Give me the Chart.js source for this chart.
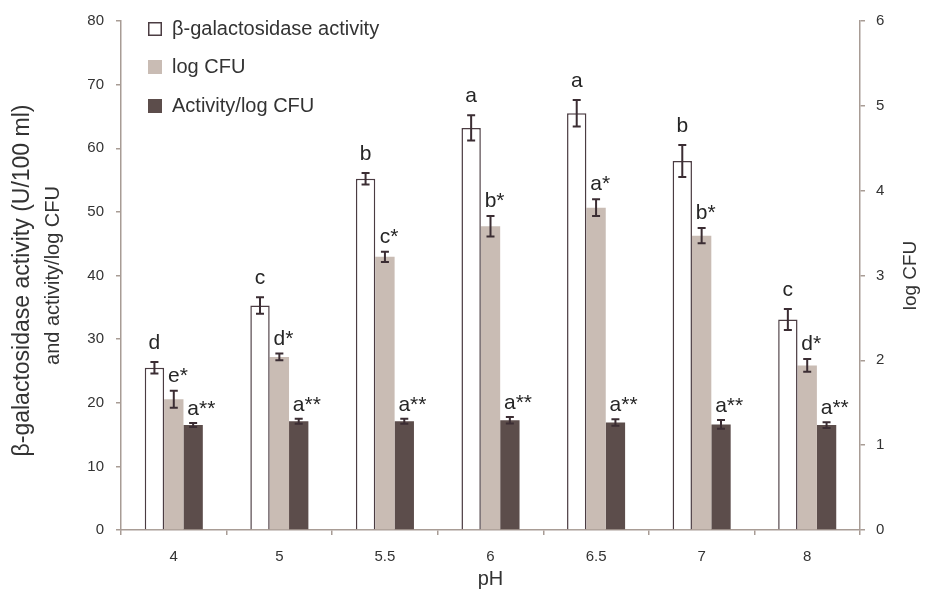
<!DOCTYPE html>
<html>
<head>
<meta charset="utf-8">
<script src="https://cdn.jsdelivr.net/npm/chart.js@4/dist/chart.umd.min.js"></script>
<style>
  html, body { margin: 0; padding: 0; background: #ffffff; }
  #wrap { width: 925px; height: 592px; position: relative; }
</style>
</head>
<body>
<div id="wrap"><canvas id="chart"></canvas></div>
<script>
// pH levels tested
const phLevels = ['4', '5', '5.5', '6', '6.5', '7', '8'];

// β-galactosidase activity (U/100 ml), mean and error
const activity    = [25.5, 35.3, 55.2, 63.2, 65.5, 58.0, 33.1];
const activityErr = [0.9, 1.3, 0.9, 2.0, 2.1, 2.5, 1.65];
const activityGroups = ['d', 'c', 'b', 'a', 'a', 'b', 'c'];

// log CFU (right axis), mean and error
const logCfu    = [1.54, 2.04, 3.22, 3.58, 3.80, 3.47, 1.94];
const logCfuErr = [0.10, 0.04, 0.06, 0.12, 0.10, 0.09, 0.075];
const logCfuGroups = ['e*', 'd*', 'c*', 'b*', 'a*', 'b*', 'd*'];

// Activity per log CFU, mean and error
const ratio    = [16.5, 17.1, 17.1, 17.25, 16.9, 16.6, 16.5];
const ratioErr = [0.3, 0.4, 0.4, 0.5, 0.5, 0.7, 0.45];
const ratioGroups = ['a**', 'a**', 'a**', 'a**', 'a**', 'a**', 'a**'];

// Axis ranges
const leftAxisMax = 80, leftAxisStep = 10;
const rightAxisMax = 6, rightAxisStep = 1;

const FONT = "'Liberation Sans', Arial, Helvetica, sans-serif";
const AXIS_COLOR = '#a89c95';
const TEXT_COLOR = '#333333';
const ERR_COLOR = '#3b2d33';

const errors = [activityErr, logCfuErr, ratioErr];
const groups = [activityGroups, logCfuGroups, ratioGroups];
const labelGap = [13, 9, 8];

// Error bars with caps, drawn through each dataset's own y scale
const errorBarPlugin = {
  id: 'errorBars',
  afterDatasetsDraw(chart) {
    const ctx = chart.ctx;
    ctx.save();
    ctx.strokeStyle = ERR_COLOR;
    ctx.lineWidth = 2;
    chart.data.datasets.forEach((ds, i) => {
      const meta = chart.getDatasetMeta(i);
      const scale = chart.scales[ds.yAxisID];
      meta.data.forEach((bar, j) => {
        const v = ds.data[j], e = errors[i][j];
        const yHi = scale.getPixelForValue(v + e);
        const yLo = scale.getPixelForValue(v - e);
        const x = bar.x, cap = 4;
        ctx.beginPath();
        ctx.moveTo(x, yHi); ctx.lineTo(x, yLo);
        ctx.moveTo(x - cap, yHi); ctx.lineTo(x + cap, yHi);
        ctx.moveTo(x - cap, yLo); ctx.lineTo(x + cap, yLo);
        ctx.stroke();
      });
    });
    ctx.restore();
  }
};

// Significance letters above each error bar; the letter is centred on the bar
const groupLabelPlugin = {
  id: 'groupLabels',
  afterDatasetsDraw(chart) {
    const ctx = chart.ctx;
    ctx.save();
    ctx.fillStyle = '#262626';
    ctx.font = '21px ' + FONT;
    ctx.textAlign = 'left';
    ctx.textBaseline = 'alphabetic';
    chart.data.datasets.forEach((ds, i) => {
      const meta = chart.getDatasetMeta(i);
      const scale = chart.scales[ds.yAxisID];
      meta.data.forEach((bar, j) => {
        const txt = groups[i][j];
        const letter = txt.charAt(0);
        const yTop = scale.getPixelForValue(ds.data[j] + errors[i][j]);
        const w = ctx.measureText(letter).width;
        ctx.fillText(txt, bar.x - w / 2, yTop - labelGap[i]);
      });
    });
    ctx.restore();
  }
};

// Legend in the upper-left corner of the plot
const legendPlugin = {
  id: 'cornerLegend',
  afterDraw(chart) {
    const ctx = chart.ctx;
    const x0 = 148, rows = [29, 67, 106], box = 14;
    ctx.save();
    ctx.font = '20px ' + FONT;
    ctx.textBaseline = 'middle';
    ctx.textAlign = 'left';
    chart.data.datasets.forEach((ds, i) => {
      const y = rows[i];
      ctx.fillStyle = ds.backgroundColor;
      ctx.fillRect(x0, y - box / 2, box, box);
      if (ds.borderWidth) {
        ctx.strokeStyle = ds.borderColor;
        ctx.lineWidth = 1.5;
        ctx.strokeRect(x0 + 0.75, y - box / 2 + 0.75, box - 1.5, box - 1.5);
      }
      ctx.fillStyle = TEXT_COLOR;
      ctx.fillText(ds.label, 172, y);
    });
    ctx.restore();
  }
};

// Vertical axis titles, both reading bottom-to-top
const axisTitlePlugin = {
  id: 'axisTitles',
  afterDraw(chart) {
    const ctx = chart.ctx;
    const area = chart.chartArea;
    const midY = (area.top + area.bottom) / 2;
    const titles = [
      { text: 'β-galactosidase activity (U/100 ml)', x: 29, y: midY + 5, size: 23 },
      { text: 'and activity/log CFU', x: 59, y: midY, size: 20 },
      { text: 'log CFU', x: 916, y: midY, size: 19 }
    ];
    ctx.save();
    ctx.fillStyle = TEXT_COLOR;
    ctx.textAlign = 'center';
    ctx.textBaseline = 'alphabetic';
    titles.forEach(t => {
      ctx.save();
      ctx.translate(t.x, t.y);
      ctx.rotate(-Math.PI / 2);
      ctx.font = t.size + 'px ' + FONT;
      ctx.fillText(t.text, 0, 0);
      ctx.restore();
    });
    ctx.restore();
  }
};

new Chart(document.getElementById('chart'), {
  type: 'bar',
  data: {
    labels: phLevels,
    datasets: [
      {
        label: 'β-galactosidase activity',
        data: activity,
        yAxisID: 'y',
        backgroundColor: '#ffffff',
        borderColor: '#4b3c42',
        borderWidth: 1.5
      },
      {
        label: 'log CFU',
        data: logCfu,
        yAxisID: 'y1',
        backgroundColor: '#c9bcb4',
        borderWidth: 0
      },
      {
        label: 'Activity/log CFU',
        data: ratio,
        yAxisID: 'y',
        backgroundColor: '#5c4d4b',
        borderWidth: 0
      }
    ]
  },
  options: {
    responsive: true,
    maintainAspectRatio: false,
    animation: false,
    devicePixelRatio: 1,
    categoryPercentage: 0.55,
    barPercentage: 1.0,
    layout: { padding: { top: 20, left: 0, right: 0, bottom: 0 } },
    plugins: {
      legend: { display: false },
      tooltip: { enabled: false }
    },
    scales: {
      x: {
        grid: { display: true, drawOnChartArea: false, drawTicks: true, tickLength: 5, color: AXIS_COLOR, lineWidth: 1.5, offset: true },
        border: { display: true, color: AXIS_COLOR, width: 1.5 },
        ticks: { color: TEXT_COLOR, font: { family: FONT, size: 15 }, padding: 13 },
        title: { display: true, text: 'pH', color: TEXT_COLOR, font: { family: FONT, size: 20 }, padding: { top: 0, bottom: 1 } },
        afterFit(scale) { scale.height = 62; }
      },
      y: {
        position: 'left',
        min: 0,
        max: leftAxisMax,
        grid: { display: true, drawOnChartArea: false, drawTicks: true, tickLength: 5, color: AXIS_COLOR, lineWidth: 1.5 },
        border: { display: true, color: AXIS_COLOR, width: 1.5 },
        ticks: { stepSize: leftAxisStep, color: TEXT_COLOR, font: { family: FONT, size: 15 }, padding: 12 },
        afterFit(scale) { scale.width = 121; }
      },
      y1: {
        position: 'right',
        min: 0,
        max: rightAxisMax,
        grid: { display: true, drawOnChartArea: false, drawTicks: true, tickLength: 5, color: AXIS_COLOR, lineWidth: 1.5 },
        border: { display: true, color: AXIS_COLOR, width: 1.5 },
        ticks: { stepSize: rightAxisStep, color: TEXT_COLOR, font: { family: FONT, size: 15 }, padding: 11 },
        afterFit(scale) { scale.width = 65; }
      }
    }
  },
  plugins: [errorBarPlugin, groupLabelPlugin, legendPlugin, axisTitlePlugin]
});
</script>
</body>
</html>
